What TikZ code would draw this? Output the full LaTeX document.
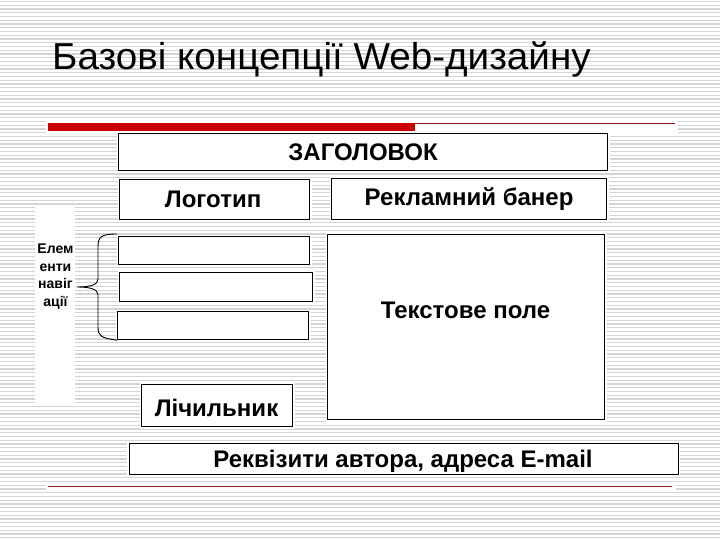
\documentclass[tikz,border=0pt]{standalone}
\usepackage{fontspec}
\setmainfont{Liberation Sans}
\definecolor{stripec}{RGB}{212,212,212}
\definecolor{barred}{RGB}{204,0,0}
\definecolor{linered}{RGB}{140,25,25}
\begin{document}
\begin{tikzpicture}[x=1pt,y=-1pt,
  stripe/.style={draw=stripec, line width=1.1pt},
  box/.style={draw=black, line width=1.2pt, fill=white, inner sep=0pt, anchor=north west,
              preaction={draw=white, line width=4pt}},
  lbl/.style={font=\fontsize{24}{28}\selectfont\bfseries, inner sep=0pt},
  small/.style={font=\fontsize{14}{17.5}\selectfont\bfseries, align=center, inner sep=0pt},
]
\useasboundingbox (0,0) rectangle (720,540);
\fill[white] (0,0) rectangle (720,540);
\foreach \i in {0,...,143} {\draw[stripe] (0,{\i*3.75+1.5}) -- (720,{\i*3.75+1.5});}

% title
\node[anchor=base west, inner sep=0pt, xscale=1.03, font=\fontsize{37.5}{40}\selectfont] (title) at (52,70) {Базові концепції Web-дизайну};

% decorative lines
\fill[white] (46,119) rectangle (678,134);
\draw[linered, line width=1pt] (48,123.5) coordinate (l1) -- (675,123.5) coordinate (l2);
\fill[barred] (48,123) rectangle (415,131);
\fill[white] (46,482) rectangle (676,490);
\draw[linered, line width=1pt] (48,486) coordinate (b1) -- (672,486) coordinate (b2);

% left panel
\fill[white] (35,205) rectangle (75,403);
\node[small] (nav) at (55.5,276.5) {Елем\\енти\\навіг\\ації};

% boxes
\node[box, minimum width=489pt, minimum height=37pt] (hdr) at (118,133) {};
\node[lbl] at (hdr.center) {ЗАГОЛОВОК};
\node[box, minimum width=190pt, minimum height=40pt] (logo) at (119,179) {};
\node[lbl] at ([xshift=-1.5pt]logo.center) {Логотип};
\node[box, minimum width=275pt, minimum height=41pt] (ban) at (331,178) {};
\node[lbl] at (ban.center) {Рекламний банер};
\node[box, minimum width=191pt, minimum height=28pt] (n1) at (118,236) {};
\node[box, minimum width=193pt, minimum height=29pt] (n2) at (119,272) {};
\node[box, minimum width=191pt, minimum height=28pt] (n3) at (117,311) {};
\node[box, minimum width=277pt, minimum height=185pt] (tf) at (327,234) {};
\node[lbl] at (465.5,310) {Текстове поле};
\node[box, minimum width=151pt, minimum height=42pt] (cnt) at (141,384) {};
\node[lbl] at (216.5,408) {Лічильник};
\node[box, minimum width=549pt, minimum height=31pt] (auth) at (128.5,443) {};
\node[lbl] at (403,461) {Реквізити автора, адреса E-mail};

% brace
\draw[line width=0.9pt] (n1.north west) ++(-1,-2) .. controls (101,234) and (98,237) .. (98,247)
  -- (98,279) .. controls (98,285) and (90,287) .. (77,287)
  .. controls (90,287) and (98,289) .. (98,295)
  -- (98,327) .. controls (98,336) and (101,338) .. (n3.south west);
\end{tikzpicture}
\end{document}
